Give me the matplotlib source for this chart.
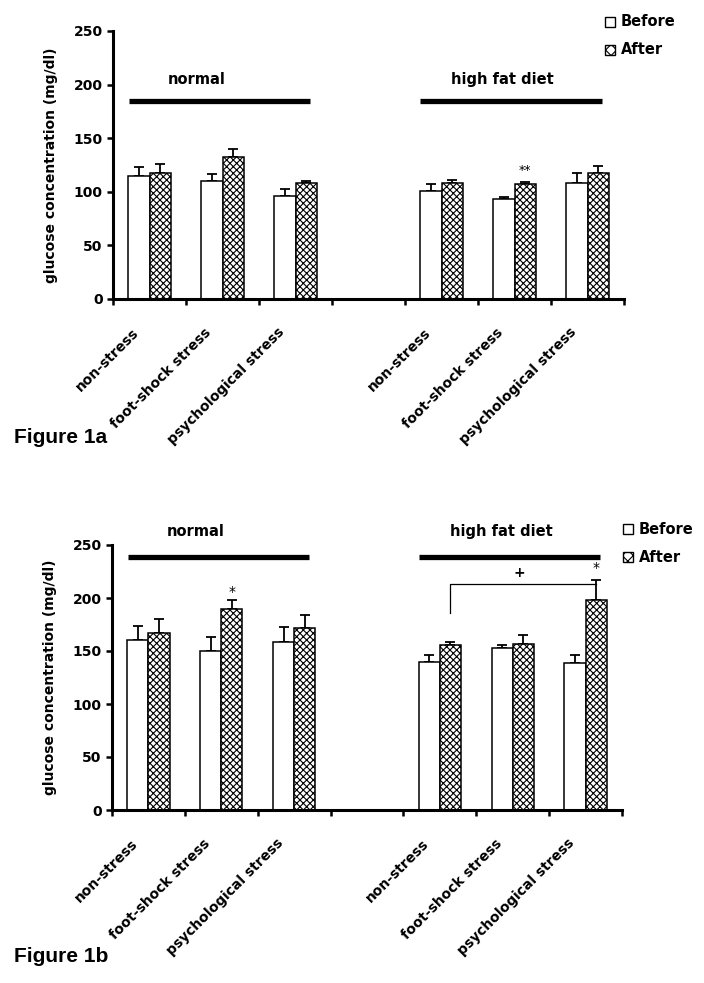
import matplotlib
matplotlib.use("Agg")
import matplotlib.pyplot as plt
from matplotlib.patches import Rectangle
import numpy as np

plt.rcParams['font.family'] = ['DejaVu Sans']
plt.rcParams['font.weight'] = 'bold'
plt.rcParams['hatch.linewidth'] = 0.8
plt.rcParams['hatch.color'] = '#3a3a3a'

categories = ['non-stress', 'foot-shock stress', 'psychological stress']
groups = ['normal', 'high fat diet']
slots = [0.5, 1.5, 2.5, 4.5, 5.5, 6.5]

before_a = [115, 110, 96, 101, 93, 108]
before_a_err = [8, 7, 7, 6, 2.5, 9.5]
after_a = [118, 132, 108, 108, 107, 118]
after_a_err = [8, 8, 2.5, 3, 2.5, 6]

before_b = [160, 150, 158.5, 140, 153, 139]
before_b_err = [14, 13, 14, 6, 2.5, 7]
after_b = [167, 189.5, 171.5, 156, 157, 198]
after_b_err = [13, 8.5, 12.5, 2.5, 8.5, 19]

W, H = 704, 983
fig = plt.figure(figsize=(W / 100, H / 100), dpi=100)

def axrect(x0, y0, x1, y1):
    return [x0 / W, 1 - y1 / H, (x1 - x0) / W, (y1 - y0) / H]

bw = 0.29
hatch = 'xxxxx'

def draw(ax, before, berr, after, aerr, group_y, text_y):
    x = np.array(slots)
    ax.bar(x - bw / 2, before, bw, color='white', edgecolor='black', linewidth=1.1, zorder=2)
    ax.bar(x + bw / 2, after, bw, color='white', edgecolor='black', linewidth=1.1, hatch=hatch, zorder=2)
    ax.errorbar(x - bw / 2, before, yerr=[np.zeros(len(before)), berr], fmt='none',
                ecolor='black', elinewidth=1.3, capsize=3.8, capthick=1.3, zorder=1)
    ax.errorbar(x + bw / 2, after, yerr=[np.zeros(len(after)), aerr], fmt='none',
                ecolor='black', elinewidth=1.3, capsize=3.8, capthick=1.3, zorder=1)
    ax.set_xlim(0, 7)
    ax.set_ylim(0, 250)
    ax.set_yticks([0, 50, 100, 150, 200, 250])
    ax.set_xticks(range(0, 8))
    ax.set_xticklabels([])
    for s in ['top', 'right']:
        ax.spines[s].set_visible(False)
    for s in ['left', 'bottom']:
        ax.spines[s].set_linewidth(2.2)
    ax.tick_params(axis='both', width=1.8, length=4.5, labelsize=10, pad=3)
    for lab in ax.get_yticklabels():
        lab.set_fontweight('bold')
    ax.set_ylabel('glucose concentration (mg/dl)', fontsize=10, fontweight='bold', labelpad=11)
    # group lines
    ax.plot([0.22, 2.70], [group_y, group_y], color='black', linewidth=3.8, solid_capstyle='butt', clip_on=False)
    ax.plot([4.21, 6.70], [group_y, group_y], color='black', linewidth=3.8, solid_capstyle='butt', clip_on=False)
    ax.text(1.15, text_y, groups[0], ha='center', va='center', fontsize=10.5, fontweight='bold', clip_on=False)
    ax.text(5.34, text_y, groups[1], ha='center', va='center', fontsize=10.5, fontweight='bold', clip_on=False)
    # category labels
    for i, xs in enumerate(slots):
        ax.annotate(categories[i % 3], xy=(xs, 0), xytext=(-9.5, -22.5), textcoords='offset points',
                    rotation=45, ha='right', va='center', rotation_mode='anchor',
                    fontsize=10, fontweight='bold', annotation_clip=False)

ax1 = fig.add_axes(axrect(113, 31, 624, 299))
draw(ax1, before_a, before_a_err, after_a, after_a_err, 185, 205)
ax1.text(slots[4] + bw / 2, 120, '**', ha='center', va='center', fontsize=9, fontweight='normal')

ax2 = fig.add_axes(axrect(112, 545, 622, 810))
draw(ax2, before_b, before_b_err, after_b, after_b_err, 239, 263)
ax2.text(slots[1] + bw / 2, 206, '*', ha='center', va='center', fontsize=10, fontweight='normal')
ax2.text(slots[5] + bw / 2, 228, '*', ha='center', va='center', fontsize=10, fontweight='normal')
# bracket
bx0 = slots[3] + bw / 2
bx1 = slots[5] + bw / 2
ax2.plot([bx0, bx0, bx1], [186, 213, 213], color='black', linewidth=0.9)
ax2.text((bx0 + bx1) / 2 - 0.05, 224, '+', ha='center', va='center', fontsize=10, fontweight='bold')

def legend(x, y_before, y_after):
    for yy, lab, h in [(y_before, 'Before', None), (y_after, 'After', 'xxx')]:
        r = Rectangle((x / W, 1 - (yy + 5) / H), 10 / W, 10 / H, transform=fig.transFigure,
                      facecolor='white', edgecolor='black', linewidth=1.0, hatch=h)
        fig.patches.append(r)
        fig.text((x + 16) / W, 1 - yy / H, lab, fontsize=10.5, fontweight='bold', va='center', ha='left')

legend(605, 22, 50)
legend(623, 529, 557)

fig.text(14 / W, 1 - 437 / H, 'Figure 1a', fontsize=15, fontweight='bold', va='center',
         family=['Liberation Sans', 'DejaVu Sans'])
fig.text(14 / W, 1 - 956 / H, 'Figure 1b', fontsize=15, fontweight='bold', va='center',
         family=['Liberation Sans', 'DejaVu Sans'])

fig.savefig('out.png', dpi=100)
